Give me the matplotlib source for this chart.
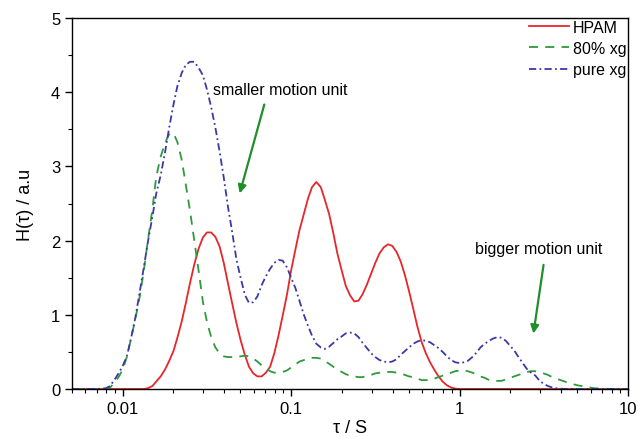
import numpy as np
import matplotlib
matplotlib.use("Agg")
import matplotlib.pyplot as plt
from matplotlib.ticker import FixedLocator, LogLocator, MultipleLocator, FuncFormatter, NullFormatter

plt.rcParams["font.family"] = ["Liberation Sans", "DejaVu Sans"]

# relaxation time (s)
tau = [0.00501, 0.00562, 0.00631, 0.00708, 0.00794, 0.00841, 0.00891, 0.00944,
       0.0100, 0.0106, 0.0112, 0.0119, 0.0126, 0.0133, 0.0141, 0.0150, 0.0158, 0.0168,
       0.0178, 0.0188, 0.0200, 0.0211, 0.0224, 0.0237, 0.0251, 0.0266, 0.0282, 0.0299,
       0.0316, 0.0335, 0.0355, 0.0376, 0.0398, 0.0422, 0.0447, 0.0473, 0.0501, 0.0531,
       0.0562, 0.0596, 0.0631, 0.0668, 0.0708, 0.0750, 0.0794, 0.0841, 0.0891, 0.0944,
       0.100, 0.106, 0.112, 0.119, 0.126, 0.133, 0.141, 0.150, 0.158, 0.168,
       0.178, 0.188, 0.200, 0.211, 0.224, 0.237, 0.251, 0.266, 0.282, 0.299,
       0.316, 0.335, 0.355, 0.376, 0.398, 0.422, 0.447, 0.473, 0.501, 0.531,
       0.562, 0.596, 0.631, 0.668, 0.708, 0.750, 0.794, 0.841, 0.891, 0.944,
       1.00, 1.06, 1.12, 1.19, 1.26, 1.33, 1.41, 1.50, 1.58, 1.68,
       1.78, 1.88, 2.00, 2.11, 2.24, 2.37, 2.51, 2.66, 2.82, 2.99,
       3.16, 3.35, 3.55, 3.76, 3.98, 4.22, 4.47,
       5.01, 5.62, 6.31, 7.08, 7.94, 8.91, 10.0]

hpam = [0, 0, 0, 0, 0, 0, 0, 0,
        0, 0, 0, 0, 0, 0, 0.01, 0.04, 0.10, 0.17,
        0.26, 0.37, 0.51, 0.69, 0.91, 1.16, 1.43, 1.68, 1.89, 2.04,
        2.11, 2.11, 2.05, 1.92, 1.70, 1.42, 1.15, 0.89, 0.66, 0.46,
        0.30, 0.21, 0.17, 0.17, 0.22, 0.30, 0.48, 0.72, 0.99, 1.27,
        1.60, 1.88, 2.14, 2.36, 2.57, 2.72, 2.79, 2.72, 2.56, 2.36,
        2.10, 1.83, 1.59, 1.39, 1.26, 1.18, 1.19, 1.28, 1.41, 1.56,
        1.70, 1.83, 1.91, 1.95, 1.93, 1.85, 1.72, 1.54, 1.32, 1.08,
        0.84, 0.63, 0.48, 0.36, 0.26, 0.17, 0.10, 0.05, 0.02, 0.005,
        0, 0, 0, 0, 0, 0, 0, 0, 0, 0,
        0, 0, 0, 0, 0, 0, 0, 0, 0, 0,
        0, 0, 0, 0, 0, 0, 0,
        0, 0, 0, 0, 0, 0, 0]

xg80 = [0, 0, 0, 0, 0, 0.02, 0.08, 0.16,
        0.26, 0.44, 0.68, 0.95, 1.24, 1.57, 2.00, 2.42, 2.86, 3.13,
        3.31, 3.43, 3.45, 3.33, 3.09, 2.75, 2.40, 2.00, 1.60, 1.18,
        0.91, 0.70, 0.56, 0.48, 0.44, 0.43, 0.43, 0.43, 0.44, 0.45,
        0.44, 0.41, 0.37, 0.32, 0.28, 0.24, 0.22, 0.22, 0.23, 0.25,
        0.29, 0.33, 0.37, 0.39, 0.41, 0.42, 0.42, 0.41, 0.38, 0.34,
        0.30, 0.26, 0.23, 0.20, 0.18, 0.17, 0.16, 0.16, 0.18, 0.19,
        0.21, 0.22, 0.23, 0.23, 0.23, 0.22, 0.21, 0.19, 0.17, 0.16,
        0.14, 0.12, 0.12, 0.12, 0.14, 0.16, 0.18, 0.20, 0.22, 0.24,
        0.25, 0.25, 0.24, 0.22, 0.20, 0.17, 0.15, 0.12, 0.11, 0.11,
        0.11, 0.13, 0.15, 0.17, 0.19, 0.21, 0.23, 0.24, 0.24, 0.23,
        0.21, 0.19, 0.16, 0.14, 0.12, 0.10, 0.08,
        0.05, 0.03, 0.01, 0.005, 0, 0, 0]

pure_xg = [0, 0, 0, 0, 0.01, 0.04, 0.12, 0.21,
           0.31, 0.45, 0.68, 0.97, 1.30, 1.62, 1.98, 2.32, 2.63, 2.88,
           3.18, 3.50, 3.83, 4.08, 4.26, 4.37, 4.41, 4.41, 4.33, 4.23,
           4.04, 3.80, 3.52, 3.20, 2.85, 2.45, 2.11, 1.75, 1.50, 1.27,
           1.16, 1.17, 1.25, 1.40, 1.52, 1.62, 1.70, 1.74, 1.73, 1.64,
           1.50, 1.36, 1.19, 1.00, 0.85, 0.72, 0.61, 0.56, 0.54, 0.57,
           0.62, 0.67, 0.71, 0.75, 0.76, 0.75, 0.70, 0.62, 0.55, 0.48,
           0.43, 0.39, 0.37, 0.36, 0.37, 0.40, 0.46, 0.51, 0.56, 0.61,
           0.64, 0.66, 0.65, 0.63, 0.59, 0.55, 0.50, 0.44, 0.39, 0.36,
           0.35, 0.36, 0.38, 0.43, 0.49, 0.56, 0.61, 0.65, 0.68, 0.70,
           0.69, 0.65, 0.58, 0.52, 0.43, 0.35, 0.27, 0.22, 0.18, 0.11,
           0.07, 0.04, 0.02, 0.01, 0.005, 0, 0,
           0, 0, 0, 0, 0, 0, 0]

x_ticks = [0.01, 0.1, 1, 10]

fig = plt.figure(figsize=(6.38, 4.39), dpi=100)
ax = fig.add_axes([0.1129, 0.1116, 0.8714, 0.8451])

ax.plot(tau, hpam, color="#e8262a", lw=1.3, label="HPAM")
ax.plot(tau, xg80, color="#2e9a3c", lw=1.3, ls=(0, (5, 4)), label="80% xg")
ax.plot(tau, pure_xg, color="#3a3aa6", lw=1.3, ls=(0, (4, 1.8, 1, 1.8)), label="pure xg")

ax.set_xscale("log")
ax.set_xlim(0.005, 10)
ax.set_ylim(0, 5)
ax.xaxis.set_major_locator(FixedLocator(x_ticks))
ax.xaxis.set_major_formatter(FuncFormatter(lambda v, _: f"{v:g}"))
ax.xaxis.set_minor_locator(LogLocator(base=10, subs=np.arange(2, 10), numticks=20))
ax.xaxis.set_minor_formatter(NullFormatter())
ax.yaxis.set_major_locator(MultipleLocator(1))
ax.yaxis.set_minor_locator(MultipleLocator(0.5))

ax.tick_params(which="both", direction="out", top=False, right=False, labelsize=12)
ax.tick_params(which="major", length=5, width=1)
ax.tick_params(which="minor", length=3, width=0.8)
for s in ax.spines.values():
    s.set_linewidth(1.0)

ax.set_xlabel("τ / S", fontsize=13, labelpad=2)
ax.set_ylabel("H(τ) / a.u", fontsize=13, labelpad=12)

ax.legend(loc="upper right", bbox_to_anchor=(1.0, 1.0), frameon=False,
          fontsize=11.5, handlelength=2.5, handletextpad=0.25,
          labelspacing=0.4, borderpad=0.1, borderaxespad=0)

arrow_kw = dict(arrowstyle="-|>", color="#1f8f2c", lw=1.6, mutation_scale=12)
ax.annotate("", xy=(0.049, 2.60), xytext=(0.070, 3.87), arrowprops=arrow_kw)
ax.text(0.0344, 4.03, "smaller motion unit", fontsize=11.5, va="center", ha="left")
ax.annotate("", xy=(2.73, 0.71), xytext=(3.17, 1.71), arrowprops=arrow_kw)
ax.text(1.236, 1.90, "bigger motion unit", fontsize=11.5, va="center", ha="left")

fig.savefig("out.png", dpi=100)
